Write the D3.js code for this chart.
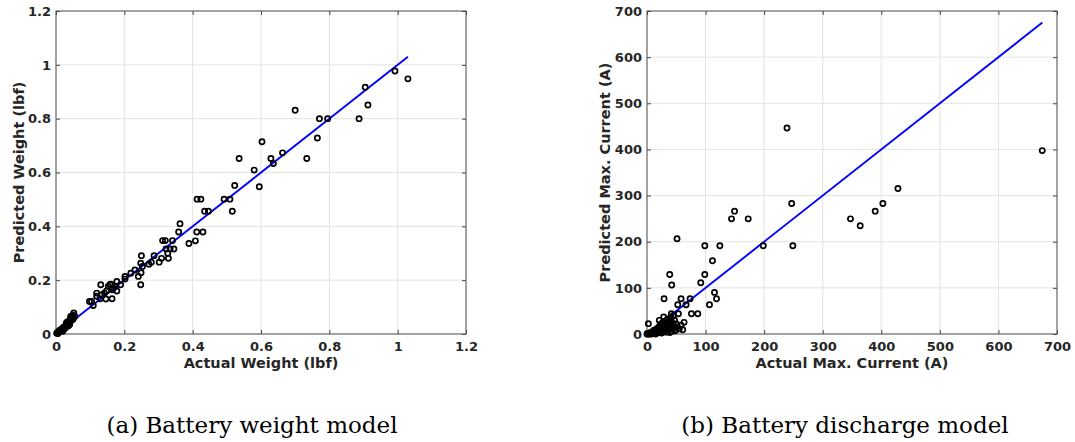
<!DOCTYPE html>
<html><head><meta charset="utf-8">
<script src="https://cdn.jsdelivr.net/npm/d3@7"></script>
<style>
html,body{margin:0;padding:0;background:#fff;}
svg{display:block;}
</style></head>
<body>
<svg id="chart" width="1075" height="442"></svg>
<script>
// ---------- DATA ----------
// (a) Battery weight model: [actual, predicted] in lbf
const weightActual = [1.030,0.992,0.905,0.913,0.887,0.795,0.771,0.765,0.700,0.734,0.663,0.629,0.636,0.603,0.580,0.595,0.536,0.523,0.492,0.509,0.516,0.413,0.424,0.435,0.446,0.412,0.430,0.408,0.389,0.363,0.359,0.312,0.320,0.341,0.322,0.334,0.345,0.327,0.329,0.309,0.302,0.287,0.279,0.272,0.250,0.248,0.253,0.249,0.241,0.248,0.231,0.219,0.202,0.202,0.189,0.178,0.173,0.178,0.165,0.158,0.164,0.131,0.148,0.146,0.134,0.119,0.119,0.129,0.104,0.098,0.109,0.142,0.153,0.160,0.168,
  0.002,0.005,0.008,0.010,0.012,0.015,0.018,0.020,0.022,0.025,0.028,0.030,0.032,0.035,0.038,0.040,0.042,0.045,0.048,0.050,0.052,0.055,0.040,0.033,0.045,0.050,0.030,0.020,0.026,0.036,0.043,0.006];
const weightPredicted = [0.948,0.977,0.917,0.851,0.800,0.800,0.800,0.728,0.831,0.652,0.673,0.652,0.633,0.714,0.609,0.547,0.652,0.552,0.501,0.501,0.456,0.501,0.501,0.456,0.456,0.379,0.379,0.346,0.336,0.410,0.379,0.347,0.347,0.347,0.316,0.316,0.316,0.300,0.281,0.281,0.267,0.291,0.267,0.259,0.291,0.263,0.251,0.228,0.214,0.183,0.238,0.226,0.214,0.204,0.183,0.195,0.177,0.160,0.164,0.183,0.131,0.183,0.160,0.130,0.146,0.152,0.140,0.131,0.121,0.121,0.106,0.152,0.177,0.185,0.170,
  0.003,0.005,0.010,0.008,0.015,0.012,0.020,0.018,0.025,0.022,0.030,0.028,0.035,0.040,0.045,0.050,0.055,0.060,0.065,0.070,0.078,0.065,0.035,0.045,0.050,0.055,0.040,0.010,0.020,0.030,0.065,0.002];

// (b) Battery discharge model: [actual, predicted] in A
const currentActual = [674.8,239,247,249,198.5,172.8,149.5,144.3,124.4,98.7,111.8,98.7,91.8,51.3,38.8,42.2,29.1,58.2,73.6,52.5,66.7,106.7,115.2,118.7,75.9,86.7,53.6,347.4,364,389.6,402.7,428.4,2.3,63.3,61,48,21,28.5,41.6,34,
  0,1,2,3,4,5,6,7,8,9,10,11,12,13,14,15,16,17,18,19,20,21,22,23,24,25,26,27,28,29,30,31,32,33,34,35,36,37,38,39,40,41,42,43,44,45,46,47,48,50,52,55,58];
const currentPredicted = [397.5,446.6,282.8,191.2,191.2,249.6,266.2,249.6,191.2,191.2,158.7,129.1,111.1,206.3,129.1,106.1,76.5,76.5,76.5,63.5,63.5,63.5,90.2,76.5,44,44,44,249.6,234.5,266.2,282.8,315.3,22.4,25.3,9.4,7.2,29.6,36.8,44,29.6,
  0,1,0,2,0,1,3,0,2,5,1,4,8,2,6,0,10,3,12,7,15,4,18,9,22,2,13,25,6,17,11,28,20,4,14,32,9,24,16,3,35,12,27,6,19,40,14,30,8,22,16,11,19];

const xTicksA = [0,0.2,0.4,0.6,0.8,1,1.2];
const yTicksA = [0,0.2,0.4,0.6,0.8,1,1.2];
const xTicksB = [0,100,200,300,400,500,600,700];
const yTicksB = [0,100,200,300,400,500,600,700];

const panels = [
  {xs: weightActual, ys: weightPredicted, dom: [0,1.2], xt: xTicksA, yt: yTicksA,
   lineEnd: 1.03, xlabel: "Actual Weight (lbf)", ylabel: "Predicted Weight (lbf)",
   caption: "(a) Battery weight model", left: 56, right: 466, ylabX: 24, capX: 252},
  {xs: currentActual, ys: currentPredicted, dom: [0,700], xt: xTicksB, yt: yTicksB,
   lineEnd: 675, xlabel: "Actual Max. Current (A)", ylabel: "Predicted Max. Current (A)",
   caption: "(b) Battery discharge model", left: 647, right: 1057, ylabX: 610, capX: 845}
];

const svg = d3.select("#chart");
const plotTop = 11, plotBottom = 334;
const fmt = d => String(+d.toFixed(1));

panels.forEach(p => {
  const x = d3.scaleLinear().domain(p.dom).range([p.left, p.right]);
  const y = d3.scaleLinear().domain(p.dom).range([plotBottom, plotTop]);
  const g = svg.append("g");

  // grid
  g.append("g").selectAll("line").data(p.xt).join("line")
    .attr("x1", d => x(d)).attr("x2", d => x(d)).attr("y1", plotTop).attr("y2", plotBottom)
    .attr("stroke", "#e3e3e3").attr("stroke-width", 1);
  g.append("g").selectAll("line").data(p.yt).join("line")
    .attr("y1", d => y(d)).attr("y2", d => y(d)).attr("x1", p.left).attr("x2", p.right)
    .attr("stroke", "#e3e3e3").attr("stroke-width", 1);

  // axes (ticks inward on all four sides)
  const axStyle = sel => {
    sel.select(".domain").remove();
    sel.selectAll(".tick line").attr("stroke", "#444");
    sel.selectAll("text").attr("font-family", "DejaVu Sans").attr("font-weight", "bold")
      .attr("font-size", 13).attr("fill", "#262626");
  };
  g.append("g").attr("transform", `translate(0,${plotBottom})`)
    .call(d3.axisBottom(x).tickValues(p.xt).tickFormat(fmt).tickSizeInner(-4).tickSizeOuter(0).tickPadding(8))
    .call(axStyle);
  g.append("g").attr("transform", `translate(${p.left},0)`)
    .call(d3.axisLeft(y).tickValues(p.yt).tickFormat(fmt).tickSizeInner(-4).tickSizeOuter(0).tickPadding(5))
    .call(axStyle);
  g.append("g").attr("transform", `translate(0,${plotTop})`)
    .call(d3.axisTop(x).tickValues(p.xt).tickFormat("").tickSizeInner(-4).tickSizeOuter(0))
    .call(axStyle);
  g.append("g").attr("transform", `translate(${p.right},0)`)
    .call(d3.axisRight(y).tickValues(p.yt).tickFormat("").tickSizeInner(-4).tickSizeOuter(0))
    .call(axStyle);

  // box
  g.append("rect").attr("x", p.left).attr("y", plotTop)
    .attr("width", p.right - p.left).attr("height", plotBottom - plotTop)
    .attr("fill", "none").attr("stroke", "#555").attr("stroke-width", 1);

  // fit line y = x
  g.append("line").attr("x1", x(0)).attr("y1", y(0)).attr("x2", x(p.lineEnd)).attr("y2", y(p.lineEnd))
    .attr("stroke", "#0000ff").attr("stroke-width", 1.9);

  // points
  const pts = p.xs.map((v, i) => [v, p.ys[i]]);
  g.append("g").selectAll("circle").data(pts).join("circle")
    .attr("cx", d => x(d[0])).attr("cy", d => y(d[1])).attr("r", 2.6)
    .attr("fill", "none").attr("stroke", "#000").attr("stroke-width", 1.7);

  // axis labels
  g.append("text").attr("x", (p.left + p.right) / 2).attr("y", 367.5)
    .attr("text-anchor", "middle").attr("font-family", "DejaVu Sans").attr("font-weight", "bold")
    .attr("font-size", 14.5).attr("fill", "#262626").text(p.xlabel);
  g.append("text").attr("transform", `translate(${p.ylabX},${(plotTop + plotBottom) / 2}) rotate(-90)`)
    .attr("text-anchor", "middle").attr("font-family", "DejaVu Sans").attr("font-weight", "bold")
    .attr("font-size", 14.5).attr("fill", "#262626").text(p.ylabel);

  // caption
  svg.append("text").attr("x", p.capX).attr("y", 433).attr("text-anchor", "middle")
    .attr("font-family", "DejaVu Serif").attr("font-size", 23).attr("fill", "#000")
    .text(p.caption);
});
</script>
</body></html>
